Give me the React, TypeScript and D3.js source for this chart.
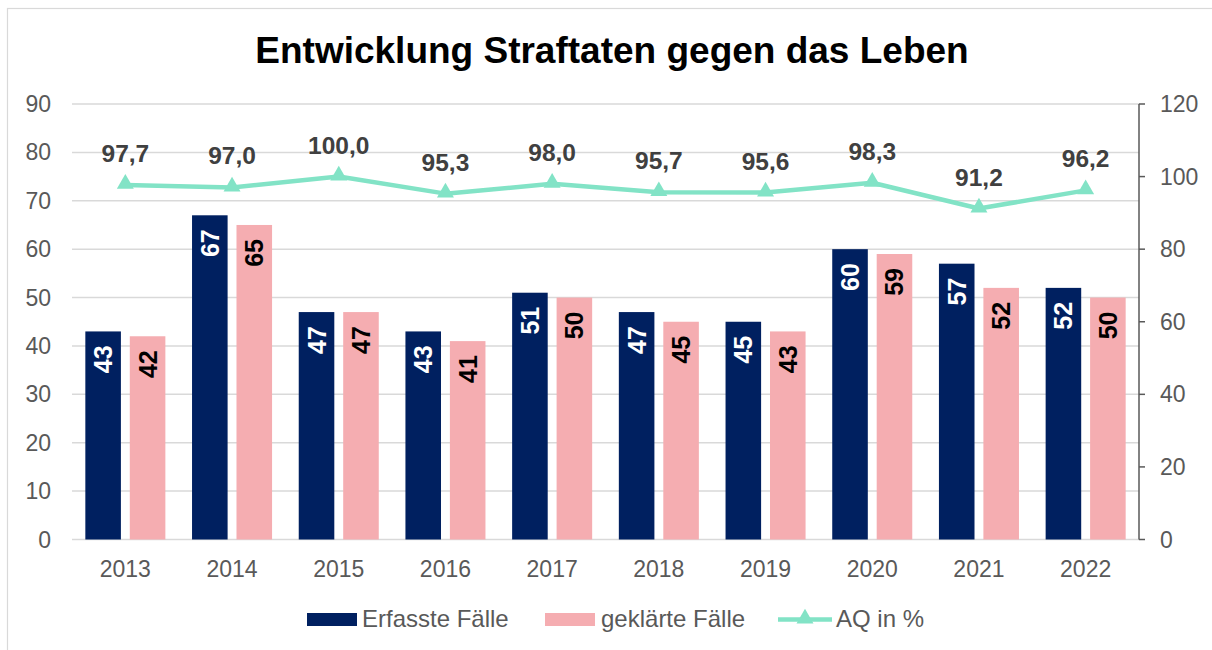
import React from "react";
import * as d3 from "d3";

const years = ["2013", "2014", "2015", "2016", "2017", "2018", "2019", "2020", "2021", "2022"];
const erfasst = [43, 67, 47, 43, 51, 47, 45, 60, 57, 52];
const geklaert = [42, 65, 47, 41, 50, 45, 43, 59, 52, 50];
const aq = [97.7, 97.0, 100.0, 95.3, 98.0, 95.7, 95.6, 98.3, 91.2, 96.2];
const leftTicks = [0, 10, 20, 30, 40, 50, 60, 70, 80, 90];
const rightTicks = [0, 20, 40, 60, 80, 100, 120];

const NAVY = "#002060";
const PINK = "#F5ADB1";
const MINT = "#82E3C6";
const AXIS_TXT = "#595959";
const GRID = "#D9D9D9";
const FONT = "'Liberation Sans', Arial, sans-serif";

export default function App() {
  const left = 72, right = 1139, top = 104, bottom = 539.5;
  const x0 = d3.scaleBand<string>().domain(years).range([left, right]).paddingInner(0.25).paddingOuter(0.125);
  const x1 = d3.scaleBand<string>().domain(["e", "g"]).range([0, x0.bandwidth()]).paddingInner(0.2);
  const yL = d3.scaleLinear().domain([0, 90]).range([bottom, top]);
  const yR = d3.scaleLinear().domain([0, 120]).range([bottom, top]);
  const fmt = (v: number) => d3.format(".1f")(v).replace(".", ",");
  const cx = (y: string) => (x0(y) as number) + x0.bandwidth() / 2;
  const line = d3.line<number>().x((_, i) => cx(years[i])).y((d) => yR(d));
  const tri = d3.symbol().type(d3.symbolTriangle).size(125);

  const series = [
    { key: "e", data: erfasst, color: NAVY, label: "#FFFFFF" },
    { key: "g", data: geklaert, color: PINK, label: "#000000" },
  ];

  return (
    <svg width={1212} height={650} style={{ position: "absolute", left: 0, top: 0 }} fontFamily={FONT}>
      <rect x={0} y={0} width={1212} height={650} fill="#FFFFFF" />
      <rect x={7.5} y={8.5} width={1220} height={700} fill="none" stroke={GRID} strokeWidth={1.2} />
      <text x={612} y={63} textAnchor="middle" fontSize={37} fontWeight="bold" fill="#000000">
        Entwicklung Straftaten gegen das Leben
      </text>
      {leftTicks.map((t) => (
        <g key={"l" + t}>
          <line x1={left} x2={right} y1={yL(t)} y2={yL(t)} stroke={GRID} strokeWidth={1.5} />
          <text x={51} y={yL(t)} dy="0.35em" textAnchor="end" fontSize={23} fill={AXIS_TXT}>
            {t}
          </text>
        </g>
      ))}
      <line x1={right} x2={right} y1={top} y2={bottom} stroke={AXIS_TXT} strokeWidth={1.5} />
      {rightTicks.map((t) => (
        <g key={"r" + t}>
          <line x1={right} x2={right + 6} y1={yR(t)} y2={yR(t)} stroke={AXIS_TXT} strokeWidth={1.5} />
          <text x={1160} y={yR(t)} dy="0.35em" textAnchor="start" fontSize={23} fill={AXIS_TXT}>
            {t}
          </text>
        </g>
      ))}
      {years.map((yr) => (
        <text key={"x" + yr} x={cx(yr)} y={577} textAnchor="middle" fontSize={23} fill={AXIS_TXT}>
          {yr}
        </text>
      ))}
      {series.map((s) =>
        s.data.map((v, i) => {
          const bx = (x0(years[i]) as number) + (x1(s.key) as number);
          const by = yL(v);
          const mx = bx + x1.bandwidth() / 2;
          return (
            <g key={s.key + i}>
              <rect x={bx} y={by} width={x1.bandwidth()} height={yL(0) - by} fill={s.color} />
              <text
                transform={`translate(${mx},${by + 14}) rotate(-90)`}
                dy="0.36em"
                textAnchor="end"
                fontSize={25}
                fontWeight="bold"
                fill={s.label}
              >
                {v}
              </text>
            </g>
          );
        })
      )}
      <path d={line(aq) || ""} fill="none" stroke={MINT} strokeWidth={4.5} strokeLinejoin="round" />
      {aq.map((v, i) => (
        <g key={"a" + i}>
          <path d={tri() || ""} transform={`translate(${cx(years[i])},${yR(v) - 1})`} fill={MINT} />
          <text x={cx(years[i])} y={yR(v) - 23} textAnchor="middle" fontSize={24.5} fontWeight="bold" fill="#404040">
            {fmt(v)}
          </text>
        </g>
      ))}
      {/* legend */}
      <rect x={307} y={613} width={50} height={13} fill={NAVY} />
      <text x={362} y={627} fontSize={24} fill={AXIS_TXT}>Erfasste Fälle</text>
      <rect x={545} y={613} width={50} height={13} fill={PINK} />
      <text x={601} y={627} fontSize={24} fill={AXIS_TXT}>geklärte Fälle</text>
      <line x1={778} x2={832} y1={619.5} y2={619.5} stroke={MINT} strokeWidth={4.5} />
      <path d={tri() || ""} transform="translate(805,618.5)" fill={MINT} />
      <text x={836} y={627} fontSize={24} fill={AXIS_TXT}>AQ in %</text>
    </svg>
  );
}
